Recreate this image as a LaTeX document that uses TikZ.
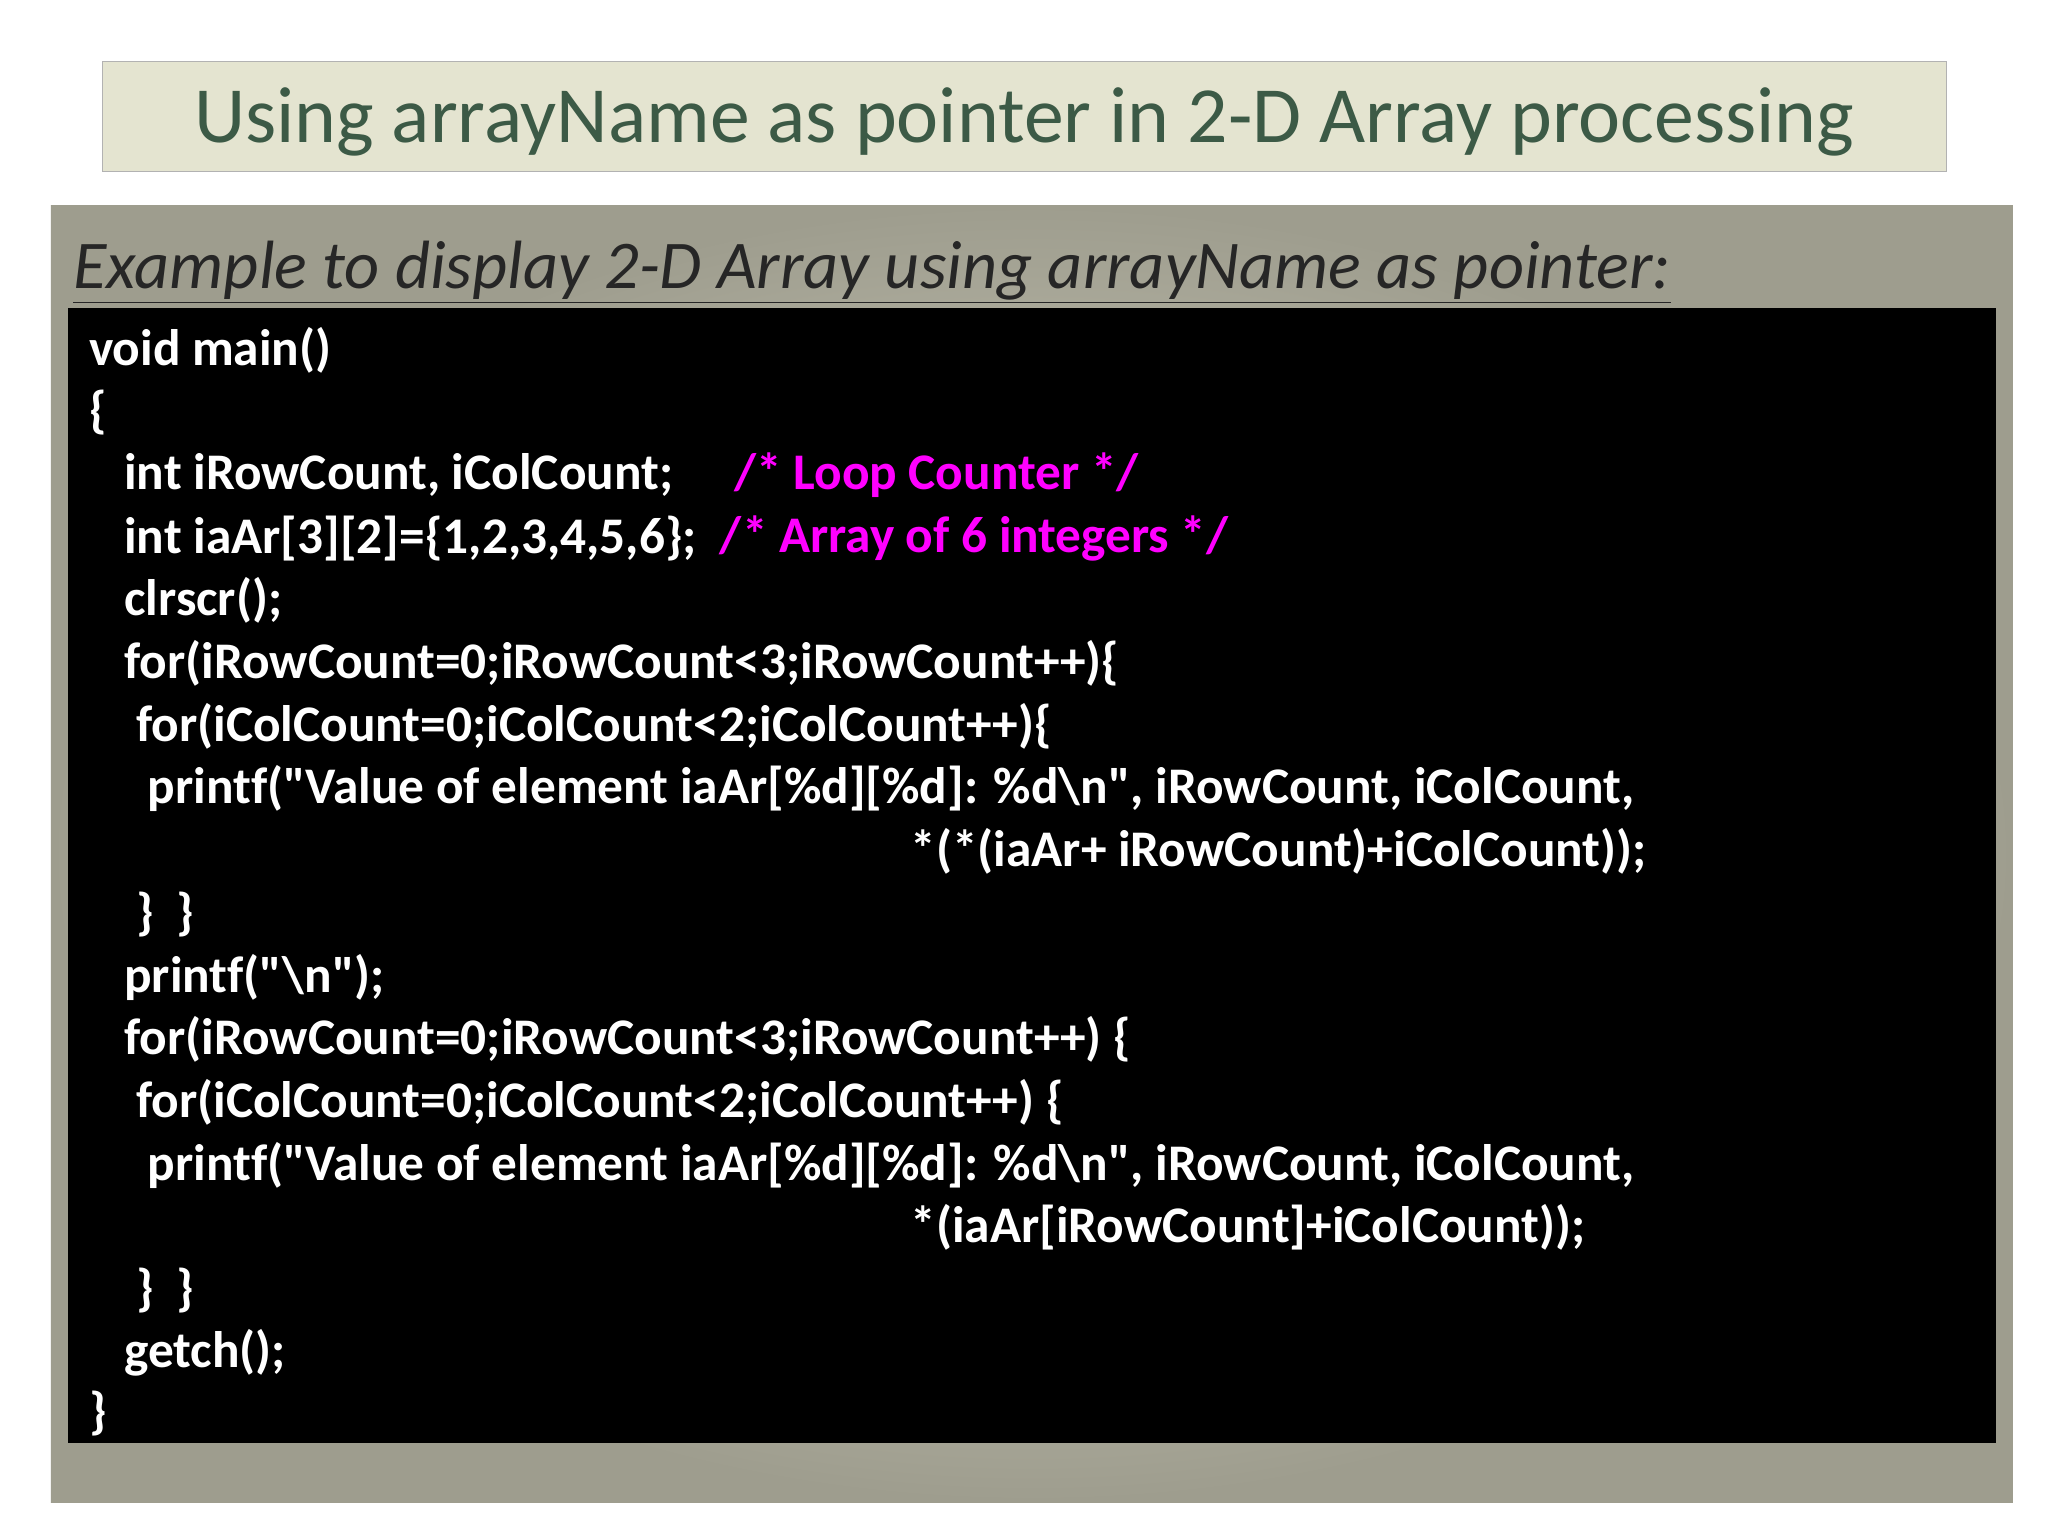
\documentclass[tikz,border=0pt]{standalone}
\usepackage{fontspec}
\setmainfont[Ligatures={NoCommon}]{Carlito}
\definecolor{titlegreen}{HTML}{3C5A46}
\definecolor{titlebg}{HTML}{E4E4D0}
\definecolor{panel}{HTML}{9E9D8E}
\definecolor{panelin}{HTML}{E2E0D0}
\definecolor{mag}{HTML}{FF00FF}
\tikzset{code/.style={anchor=west,inner sep=0pt,text=white,font=\fontsize{39.3}{39.3}\selectfont\bfseries},
cmt/.style={code,text=mag}}
\begin{document}
\begin{tikzpicture}[x=1pt,y=-1pt]
\useasboundingbox (0,0) rectangle (1568,1176);
\fill[white] (0,0) rectangle (1568,1176);
\node[draw=gray!60,fill=titlebg,minimum width=1412pt,minimum height=84pt,inner sep=0pt] (title) at (784,89) {};
\node[text=titlegreen,font=\fontsize{61}{61}\selectfont] (tt) at (784,93) {Using arrayName as pointer in 2-D Array processing};
\shade[inner color=panelin,outer color=panel] (39,157) rectangle (1541,1150);
\node[anchor=base west,inner sep=0pt,text=black!85,font=\fontsize{52.3}{52.3}\selectfont\itshape] (sub) at (56,221) {\underline{Example to display 2-D Array using arrayName as pointer:}};
\fill[black] (52,236) rectangle (1528,1105);
\node[code] (l1) at (68,268) {void main()};
\node[code] (l2) at (68,316) {\{};
\node[code] (l3) at (95,364) {int iRowCount, iColCount;};
\node[cmt] (c3) at (562,364) {/* Loop Counter */};
\node[code] (l4) at (95,412) {int iaAr[3][2]=\{1,2,3,4,5,6\};};
\node[cmt] (c4) at (551,412) {/* Array of 6 integers */};
\node[code] (l5) at (95,460) {clrscr();};
\node[code] (l6) at (95,508) {for(iRowCount=0;iRowCount<3;iRowCount++)\{};
\node[code] (l7) at (104,556) {for(iColCount=0;iColCount<2;iColCount++)\{};
\node[code] (l8) at (113,604) {printf(\textquotedbl Value of element iaAr[\%d][\%d]: \%d\textbackslash n\textquotedbl, iRowCount, iColCount,};
\node[code] (l9) at (697,652) {*(*(iaAr+ iRowCount)+iColCount));};
\node[code] (l10) at (104,700) {\}~ \}};
\node[code] (l11) at (95,748) {printf(\textquotedbl\textbackslash n\textquotedbl);};
\node[code] (l12) at (95,796) {for(iRowCount=0;iRowCount<3;iRowCount++) \{};
\node[code] (l13) at (104,844) {for(iColCount=0;iColCount<2;iColCount++) \{};
\node[code] (l14) at (113,892) {printf(\textquotedbl Value of element iaAr[\%d][\%d]: \%d\textbackslash n\textquotedbl, iRowCount, iColCount,};
\node[code] (l15) at (697,940) {*(iaAr[iRowCount]+iColCount));};
\node[code] (l16) at (104,988) {\}~ \}};
\node[code] (l17) at (95,1036) {getch();};
\node[code] (l18) at (68,1082) {\}};
\end{tikzpicture}
\end{document}
